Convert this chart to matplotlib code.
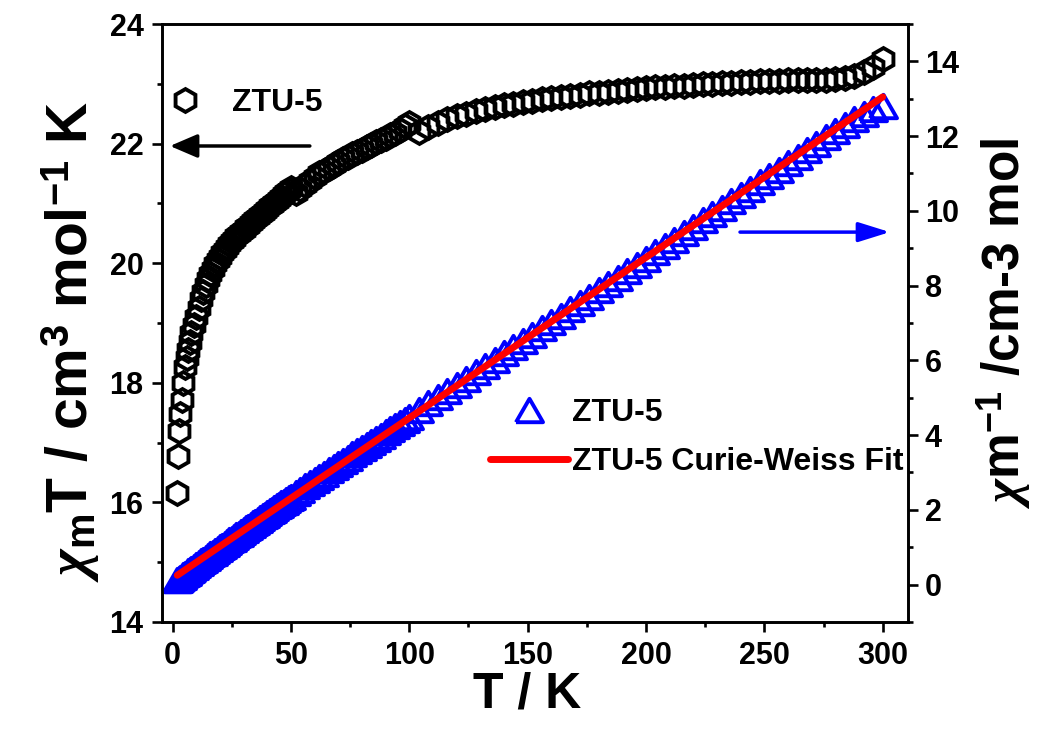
import matplotlib
matplotlib.use('Agg')
import matplotlib.pyplot as plt
from matplotlib.ticker import MultipleLocator

plt.rcParams['font.family'] = ['Liberation Sans', 'DejaVu Sans']
plt.rcParams['font.weight'] = 'bold'
plt.rcParams['mathtext.fontset'] = 'custom'
plt.rcParams['mathtext.rm'] = 'Liberation Sans:bold'
plt.rcParams['mathtext.bf'] = 'Liberation Sans:bold'
plt.rcParams['mathtext.it'] = 'Liberation Serif:italic'

# Temperatur (K)
T = [2, 2.2, 2.6, 3.2, 3.8, 4.5, 5.2, 5.9, 6.6, 7.3, 8, 9,
     10, 11, 12, 13, 14, 15, 16, 17, 18, 19, 20, 21, 22, 23, 24, 25,
     26, 27, 28, 29, 30, 31, 32, 33, 34, 35, 36, 37, 38, 39, 40, 41,
     42, 43, 44, 45, 46, 47, 48, 49, 50,
     52, 54, 56, 58, 60, 62, 64, 66, 68, 70, 72, 74, 76, 78, 80, 82,
     84, 86, 88, 90, 92, 94, 96, 98, 100,
     104, 108, 112, 116, 120, 124, 128, 132, 136, 140, 144, 148, 152,
     156, 160, 164, 168, 172, 176, 180, 184, 188, 192, 196, 200, 204,
     208, 212, 216, 220, 224, 228, 232, 236, 240, 244, 248, 252, 256,
     260, 264, 268, 272, 276, 280, 284, 288, 292, 296, 300]

# chi_m * T (cm3 mol-1 K), linke Achse
chiT = [16.16, 16.78, 17.20, 17.48, 17.71, 17.99, 18.27, 18.41, 18.55, 18.69, 18.83, 18.97,
        19.10, 19.25, 19.40, 19.52, 19.63, 19.73, 19.82, 19.90, 19.98, 20.05, 20.11, 20.17,
        20.22, 20.27, 20.32, 20.37, 20.41, 20.45, 20.49, 20.53, 20.56, 20.60, 20.63, 20.67,
        20.70, 20.74, 20.77, 20.81, 20.84, 20.88, 20.91, 20.95, 20.98, 21.01, 21.04, 21.08,
        21.11, 21.15, 21.19, 21.23, 21.26,
        21.17, 21.24, 21.31, 21.38, 21.44, 21.50, 21.55, 21.60, 21.65, 21.70, 21.74, 21.78,
        21.82, 21.86, 21.90, 21.94, 21.98, 22.02, 22.06, 22.10, 22.14, 22.18, 22.23, 22.29,
        22.35,
        22.20, 22.27, 22.34, 22.41, 22.46, 22.50, 22.54, 22.58, 22.61, 22.64, 22.67, 22.69,
        22.72, 22.74, 22.76, 22.78, 22.80, 22.82, 22.84, 22.85, 22.87, 22.88, 22.90, 22.91,
        22.93, 22.94, 22.95, 22.96, 22.97, 22.98, 22.99, 23.00, 23.01, 23.02, 23.03, 23.03,
        23.04, 23.05, 23.05, 23.06, 23.06, 23.07, 23.07, 23.07, 23.08, 23.09, 23.13, 23.20,
        23.28, 23.42]

# 1/chi_m (cm-3 mol), rechte Achse
chi_inv = [0.124, 0.131, 0.151, 0.183, 0.215, 0.250, 0.285, 0.320, 0.356, 0.391, 0.425, 0.474,
           0.524, 0.571, 0.619, 0.666, 0.713, 0.760, 0.807, 0.854, 0.901, 0.948, 0.995, 1.041,
           1.088, 1.135, 1.181, 1.227, 1.274, 1.320, 1.367, 1.413, 1.459, 1.505, 1.551, 1.597,
           1.643, 1.688, 1.733, 1.778, 1.823, 1.868, 1.913, 1.957, 2.002, 2.047, 2.091, 2.135,
           2.179, 2.222, 2.265, 2.308, 2.352,
           2.456, 2.542, 2.628, 2.713, 2.799, 2.884, 2.970, 3.056, 3.141, 3.226, 3.312, 3.398,
           3.483, 3.568, 3.653, 3.737, 3.822, 3.906, 3.989, 4.072, 4.155, 4.238, 4.319, 4.397,
           4.474,
           4.685, 4.850, 5.013, 5.176, 5.343, 5.511, 5.679, 5.846, 6.015, 6.184, 6.352, 6.523,
           6.690, 6.860, 7.030, 7.199, 7.368, 7.537, 7.706, 7.877, 8.045, 8.217, 8.384, 8.555,
           8.722, 8.893, 9.063, 9.233, 9.404, 9.574, 9.743, 9.913, 10.083, 10.252, 10.421, 10.595,
           10.764, 10.933, 11.106, 11.275, 11.448, 11.617, 11.790, 11.964, 12.132, 12.300, 12.451,
           12.586, 12.715, 12.810]

# Curie-Weiss Fit (Endpunkte der Geraden)
fit_T = [2, 300]
fit_inv = [0.25, 13.05]

# gleichseitiges Dreieck wie in Origin
tri = [(-1, -0.866), (1, -0.866), (0, 0.866), (-1, -0.866)]

fig = plt.figure(figsize=(10.49, 7.34), dpi=100)
ax1 = fig.add_axes([0.1541, 0.1526, 0.7118, 0.8147])
ax2 = ax1.twinx()

hex_line, = ax1.plot(T, chiT, ls='none', marker='h', ms=16.5, mfc='none',
                     mec='black', mew=2.8, label='ZTU-5')
tri_line, = ax2.plot(T, chi_inv, ls='none', marker=tri, ms=19.5, mfc='none',
                     mec='#0000ff', mew=2.8, label='ZTU-5')
fit_line, = ax2.plot(fit_T, fit_inv, color='#ff0000', lw=5,
                     solid_capstyle='round', label='ZTU-5 Curie-Weiss Fit')

ax1.set_xlim(-4.6, 310.8)
ax1.set_ylim(14, 24)
ax2.set_ylim(-1, 15)

ax1.xaxis.set_major_locator(MultipleLocator(50))
ax1.xaxis.set_minor_locator(MultipleLocator(25))
ax1.yaxis.set_major_locator(MultipleLocator(2))
ax1.yaxis.set_minor_locator(MultipleLocator(1))
ax2.yaxis.set_major_locator(MultipleLocator(2))
ax2.yaxis.set_minor_locator(MultipleLocator(1))

for ax in (ax1, ax2):
    ax.tick_params(which='major', direction='out', length=7, width=1.9, labelsize=22)
    ax.tick_params(which='minor', direction='out', length=3.5, width=1.9)
    for s in ax.spines.values():
        s.set_linewidth(1.9)
ax1.tick_params(axis='y', pad=6)
ax1.tick_params(axis='x', pad=7)
ax2.tick_params(axis='y', pad=5)

ax1.set_xlabel('T / K', fontsize=36, fontweight='bold')
ax1.xaxis.set_label_coords(0.49, -0.082)
ax1.set_ylabel(r'$\chi_\mathrm{m}$T / cm$^\mathrm{3}$ mol$^\mathrm{-1}$ K',
               fontsize=41, fontweight='bold', va='center', ha='center')
ax1.yaxis.set_label_coords(-0.122, 0.47)
ax2.set_ylabel(r'$\chi$m$^\mathrm{-1}$ /cm-3 mol',
               fontsize=37, fontweight='bold', va='center', ha='center', rotation=90)
ax2.yaxis.set_label_coords(1.128, 0.50)

# Pfeile zur jeweiligen Achse
ax1.annotate('', xy=(-1.1, 21.96), xytext=(58, 21.96),
             arrowprops=dict(arrowstyle='-|>,head_length=0.7,head_width=0.3',
                             color='black', lw=2.5, mutation_scale=24,
                             shrinkA=0, shrinkB=0))
ax1.annotate('', xy=(303, 20.52), xytext=(239.7, 20.52),
             arrowprops=dict(arrowstyle='-|>,head_length=0.8,head_width=0.25',
                             color='#0000ff', lw=2.5, mutation_scale=24,
                             shrinkA=0, shrinkB=0))

leg_font = {'size': 23, 'weight': 'bold'}
leg1 = ax2.legend(handles=[hex_line], loc='center left', frameon=False, prop=leg_font,
                  numpoints=1, borderpad=0, borderaxespad=0, handlelength=1.0,
                  handletextpad=0.96, bbox_to_anchor=(0.161, 0.860),
                  bbox_transform=fig.transFigure)
ax2.add_artist(leg1)
ax2.legend(handles=[tri_line, fit_line], loc='center left', frameon=False, prop=leg_font,
           numpoints=1, borderpad=0, borderaxespad=0, handlelength=2.44,
           handletextpad=0.12, labelspacing=0.6, bbox_to_anchor=(0.4671, 0.404),
           bbox_transform=fig.transFigure)

fig.savefig('out.png', dpi=100)
